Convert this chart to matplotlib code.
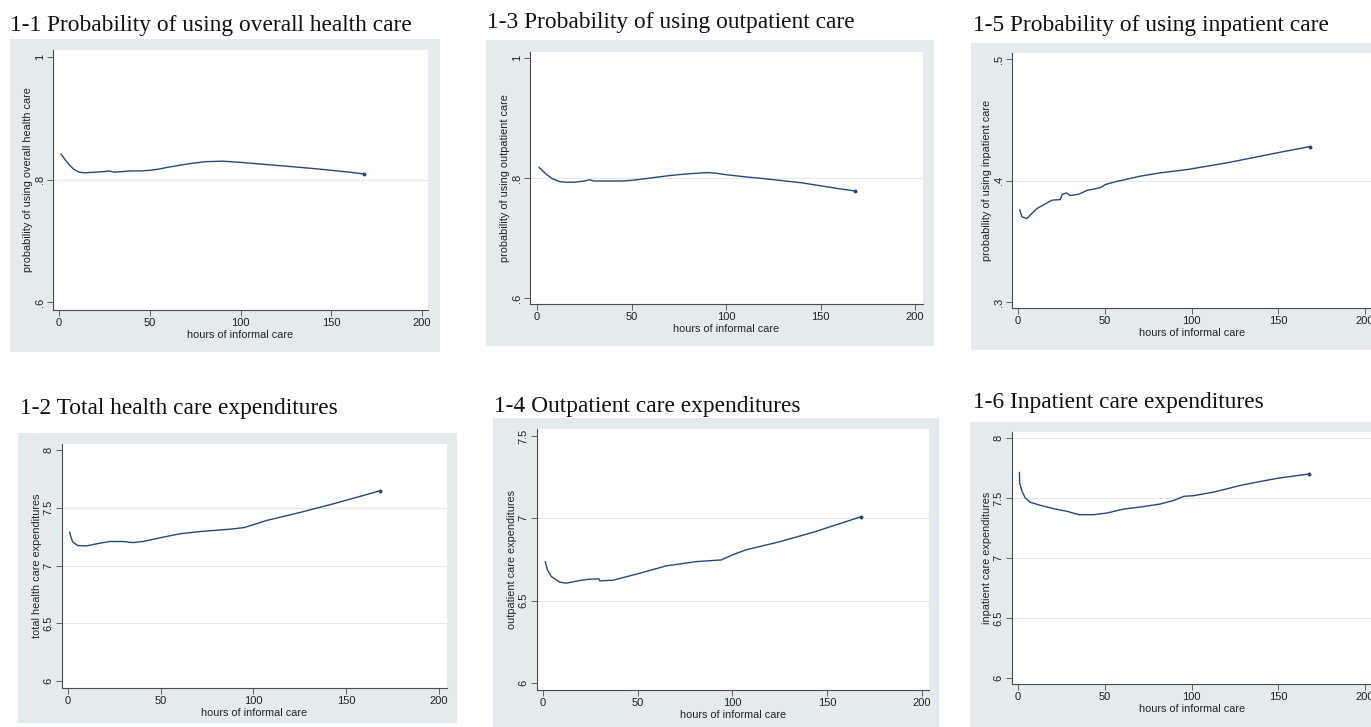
import matplotlib
matplotlib.use("Agg")
import matplotlib.pyplot as plt
from matplotlib.patches import Rectangle

# ---------------- data ----------------
titles = [
    "1-1 Probability of using overall health care",
    "1-3 Probability of using outpatient care",
    "1-5 Probability of using inpatient care",
    "1-2 Total health care expenditures",
    "1-4 Outpatient care expenditures",
    "1-6 Inpatient care expenditures",
]
ylabels = [
    "probability of using overall health care",
    "probability of using outpatient care",
    "probability of using inpatient care",
    "total health care expenditures",
    "outpatient care expenditures",
    "inpatient care expenditures",
]
xlabel = "hours of informal care"
xticks = [0, 50, 100, 150, 200]
xticklabels = ["0", "50", "100", "150", "200"]

yticks_p1 = [0.6, 0.8, 1.0]
yticklabels_p1 = [".6", ".8", "1"]
yticks_p5 = [0.3, 0.4, 0.5]
yticklabels_p5 = [".3", ".4", ".5"]
yticks_e8 = [6, 6.5, 7, 7.5, 8]
yticklabels_e8 = ["6", "6.5", "7", "7.5", "8"]
yticks_e75 = [6, 6.5, 7, 7.5]
yticklabels_e75 = ["6", "6.5", "7", "7.5"]

x_11 = [1, 3, 5, 8, 11, 14, 20, 25, 28, 30, 35, 40, 45, 50, 55, 60, 70, 80, 90, 95, 100, 120, 140, 160, 168]
y_11 = [0.842, 0.834, 0.826, 0.817, 0.812, 0.811, 0.812, 0.813, 0.814, 0.812, 0.813, 0.814, 0.814,
        0.815, 0.817, 0.820, 0.825, 0.829, 0.830, 0.829, 0.828, 0.823, 0.818, 0.812, 0.809]

x_13 = [1, 3, 5, 8, 12, 15, 20, 25, 28, 30, 35, 40, 45, 50, 55, 60, 70, 80, 90, 95, 100, 110, 120, 140, 160, 168]
y_13 = [0.818, 0.812, 0.806, 0.799, 0.794, 0.793, 0.793, 0.795, 0.797, 0.795, 0.795, 0.795, 0.795,
        0.796, 0.798, 0.800, 0.804, 0.807, 0.809, 0.808, 0.8055, 0.802, 0.799, 0.792, 0.782, 0.7785]

x_15 = [1, 2.3, 5.2, 7, 11, 19.6, 24.4, 25.4, 28, 30, 35, 40, 42.7, 47.5, 50.4, 56, 70.6, 82, 97.5, 120.6, 149.4, 168.3]
y_15 = [0.376, 0.370, 0.3687, 0.3714, 0.377, 0.3838, 0.3843, 0.3885, 0.3898, 0.3876, 0.3887, 0.392,
        0.3926, 0.3942, 0.3967, 0.3989, 0.4036, 0.4063, 0.409, 0.4146, 0.4228, 0.428]

x_12 = [0.9, 1.8, 2.7, 5.4, 10, 17, 22.5, 29.6, 35, 40.4, 50.3, 60, 71, 89, 95, 99.7, 107, 125, 143, 168]
y_12 = [7.289, 7.237, 7.202, 7.173, 7.170, 7.193, 7.208, 7.208, 7.199, 7.208, 7.242, 7.274, 7.294,
        7.317, 7.329, 7.352, 7.390, 7.459, 7.534, 7.646]

x_14 = [1.2, 2.3, 4.4, 8.8, 12.3, 19.3, 24.6, 29.5, 30, 37, 51, 65, 81, 94, 100, 107, 125, 142.5, 168]
y_14 = [6.737, 6.687, 6.646, 6.612, 6.606, 6.622, 6.630, 6.632, 6.620, 6.624, 6.666, 6.711, 6.737,
        6.747, 6.778, 6.808, 6.858, 6.915, 7.010]

x_16 = [0.8, 1, 2.3, 4.2, 7.1, 12.9, 20.6, 28.3, 35, 43.7, 51.3, 61, 70.6, 82, 89.8, 95.6, 101, 113, 130, 149.4, 167.7]
y_16 = [7.714, 7.62, 7.556, 7.50, 7.464, 7.439, 7.411, 7.389, 7.361, 7.361, 7.375, 7.408, 7.425,
        7.45, 7.48, 7.514, 7.519, 7.55, 7.611, 7.664, 7.70]

series_x = [x_11, x_13, x_15, x_12, x_14, x_16]
series_y = [y_11, y_13, y_15, y_12, y_14, y_16]
yticks_all = [yticks_p1, yticks_p1, yticks_p5, yticks_e8, yticks_e75, yticks_e8]
yticklabels_all = [yticklabels_p1, yticklabels_p1, yticklabels_p5, yticklabels_e8, yticklabels_e75, yticklabels_e8]

# ---------------- layout (pixels) ----------------
W, H = 1371, 727
bg_boxes = [(10, 39, 440, 352), (486, 40, 934, 346), (971, 43, 1380, 350),
            (18, 433, 457, 723), (493, 418, 939, 735), (970, 422, 1380, 735)]
ax_boxes = [(53, 50, 428, 310), (530, 52, 923, 304), (1012, 53, 1372, 308),
            (62, 444, 447, 688), (537, 429, 929, 690), (1012, 432, 1372, 684)]
xlims = [(-3.3, 203.3), (-3.7, 204.2), (-3.46, 204.0),
         (-3.2, 204.3), (-3.17, 203.7), (-3.46, 204.0)]
ylims = [(0.587, 1.0114), (0.59, 1.01), (0.295, 0.505),
         (5.94, 8.052), (5.957, 7.5425), (5.95, 8.05)]
title_pos = [(10, 31), (487, 28), (973, 31), (20, 414), (494, 412), (973, 408)]
grid_sets = [[0.8], [0.8], [0.4], [6.5, 7, 7.5], [6.5, 7], [6.5, 7, 7.5, 8]]

BG = "#e3ebef"
GRID = "#e2eaee"
LINE = "#1f4a7c"
AXC = "#4a4a4a"

fig = plt.figure(figsize=(W / 100, H / 100), dpi=100)
fig.patch.set_facecolor("white")


def fig_rect(b):
    x0, y0, x1, y1 = b
    return [x0 / W, 1 - y1 / H, (x1 - x0) / W, (y1 - y0) / H]


for i in range(6):
    r = fig_rect(bg_boxes[i])
    fig.add_artist(Rectangle((r[0], r[1]), r[2], r[3], transform=fig.transFigure,
                             facecolor=BG, edgecolor="none", zorder=0))
    ax = fig.add_axes(fig_rect(ax_boxes[i]))
    ax.set_facecolor("white")
    ax.set_zorder(1)
    ax.plot(series_x[i], series_y[i], color=LINE, linewidth=1.0, solid_capstyle="round", zorder=3)
    ax.plot(series_x[i][-1:], series_y[i][-1:], "o", color=LINE, markersize=1.8, zorder=3)
    for g in grid_sets[i]:
        ax.axhline(g, color=GRID, linewidth=0.9, zorder=1)
    ax.set_xlim(*xlims[i])
    ax.set_ylim(*ylims[i])
    ax.set_xticks(xticks)
    ax.set_xticklabels(xticklabels, fontsize=8, color="#222222", family="Liberation Sans")
    ax.set_yticks(yticks_all[i])
    ax.set_yticklabels(yticklabels_all[i], fontsize=8, color="#222222", family="Liberation Sans",
                       rotation=90, va="center")
    ax.tick_params(direction="out", length=4, width=0.6, color=AXC, pad=2)
    for s in ["top", "right"]:
        ax.spines[s].set_visible(False)
    for s in ["left", "bottom"]:
        ax.spines[s].set_color(AXC)
        ax.spines[s].set_linewidth(0.8)
    ax.set_xlabel(xlabel, fontsize=7.8, color="#222222", family="Liberation Sans", labelpad=1)
    ax.set_ylabel(ylabels[i], fontsize=7.8, color="#222222", family="Liberation Sans", labelpad=1)
    tx, ty = title_pos[i]
    fig.text(tx / W, 1 - ty / H, titles[i], fontsize=16.8, family="Liberation Serif",
             color="#111111", ha="left", va="baseline")

fig.savefig("out.png", dpi=100)
